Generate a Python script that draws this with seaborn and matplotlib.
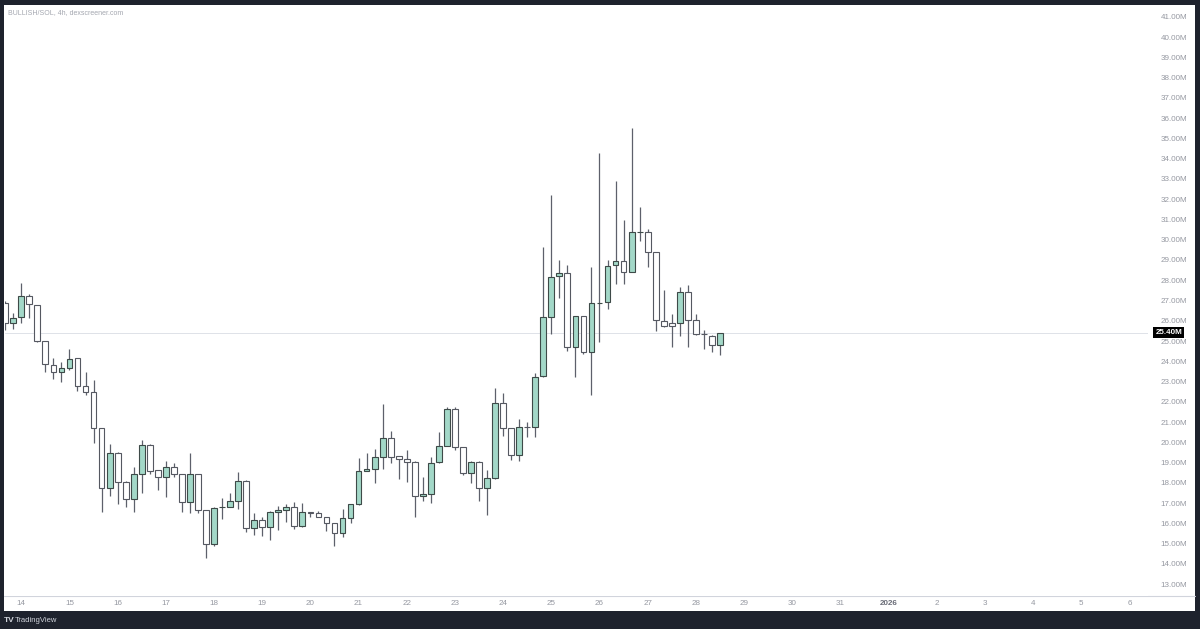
import numpy as np
import pandas as pd
import seaborn as sns
import matplotlib.pyplot as plt
from matplotlib.patches import Rectangle
from matplotlib.lines import Line2D

# 4h candles, index 0 = Dec 14 00:00, values in millions
bar_idx = list(range(-2, 88))
opens = [26.86, 25.90, 26.17, 27.24, 26.78, 25.00, 23.81, 23.45, 23.68, 24.14,
         22.78, 22.48, 20.69, 17.73, 19.48, 18.06, 17.18, 18.43, 19.86, 18.63,
         18.27, 18.76, 18.42, 17.03, 18.42, 16.65, 14.96, 16.78, 16.82, 17.12,
         18.09, 15.75, 16.16, 15.80, 16.54, 16.67, 16.80, 15.86, 16.54, 16.53,
         16.29, 16.00, 15.54, 16.28, 16.94, 18.60, 18.66, 19.29, 20.19, 19.31,
         19.16, 19.04, 17.35, 17.44, 19.02, 19.84, 21.62, 19.75, 18.47, 19.04,
         17.73, 18.22, 21.95, 20.70, 19.35, 20.77, 20.74, 23.27, 26.20, 28.21,
         28.34, 24.69, 26.23, 24.46, 26.86, 26.94, 28.74, 28.93, 28.41, 30.37,
         30.40, 29.38, 25.97, 25.90, 25.90, 27.42, 26.04, 25.35, 25.26, 24.80]
highs = [27.00, 26.37, 27.88, 27.30, 26.80, 25.02, 24.14, 23.98, 24.59, 24.16,
         23.48, 23.07, 20.71, 19.91, 19.50, 18.10, 18.79, 20.11, 19.90, 18.65,
         19.09, 19.00, 18.44, 19.45, 18.45, 16.67, 16.80, 17.27, 17.48, 18.55,
         18.12, 16.49, 16.33, 16.60, 16.83, 16.95, 17.07, 16.99, 16.58, 16.62,
         16.31, 16.02, 16.69, 16.95, 19.21, 19.48, 19.69, 21.87, 20.57, 19.33,
         19.64, 19.06, 18.30, 19.26, 20.52, 21.76, 21.76, 19.76, 19.10, 19.10,
         18.63, 22.66, 22.45, 20.72, 21.13, 21.02, 23.40, 29.66, 32.21, 29.00,
         28.75, 26.25, 26.25, 28.67, 34.28, 29.00, 32.92, 30.98, 35.50, 31.64,
         30.53, 29.40, 27.52, 26.33, 27.65, 27.77, 26.33, 25.54, 25.30, 25.40]
lows = [25.54, 25.58, 25.90, 26.12, 24.95, 23.48, 23.11, 22.99, 23.57, 22.55,
        22.33, 19.98, 16.57, 17.35, 16.95, 16.79, 16.54, 17.51, 18.43, 17.64,
        17.28, 18.27, 16.57, 16.49, 16.49, 14.27, 14.90, 16.20, 16.79, 16.69,
        15.58, 15.42, 15.37, 15.17, 15.67, 16.08, 15.72, 15.83, 16.33, 16.29,
        15.64, 14.89, 15.34, 16.03, 16.92, 18.58, 18.00, 18.66, 18.96, 18.17,
        18.02, 16.33, 17.12, 17.02, 19.00, 19.82, 19.62, 18.40, 18.00, 17.12,
        16.41, 18.20, 20.31, 19.12, 19.09, 20.27, 20.24, 23.20, 25.35, 27.11,
        24.52, 23.24, 24.36, 22.33, 24.97, 26.56, 27.81, 27.81, 28.39, 29.94,
        28.67, 25.51, 25.68, 24.72, 25.25, 24.69, 25.30, 24.59, 24.47, 24.31]
closes = [25.87, 26.15, 27.22, 26.81, 25.00, 23.85, 23.48, 23.68, 24.11, 22.78,
          22.48, 20.69, 17.73, 19.48, 18.06, 17.18, 18.42, 19.86, 18.60, 18.27,
          18.76, 18.42, 17.03, 18.42, 16.65, 14.96, 16.74, 16.80, 17.10, 18.09,
          15.77, 16.16, 15.80, 16.54, 16.65, 16.80, 15.86, 16.54, 16.53, 16.29,
          16.00, 15.54, 16.28, 16.94, 18.60, 18.66, 19.26, 20.19, 19.29, 19.16,
          19.04, 17.35, 17.44, 18.99, 19.84, 21.62, 19.75, 18.47, 19.04, 17.73,
          18.22, 21.95, 20.70, 19.35, 20.73, 20.74, 23.24, 26.20, 28.18, 28.34,
          24.69, 26.23, 24.46, 26.86, 26.89, 28.72, 28.93, 28.41, 30.37, 30.40,
          29.38, 26.04, 25.74, 25.74, 27.42, 26.04, 25.35, 25.33, 24.80, 25.40]

day_labels = ["14", "15", "16", "17", "18", "19", "20", "21", "22", "23", "24", "25",
              "26", "27", "28", "29", "30", "31", "2026", "2", "3", "4", "5", "6"]
price_ticks = list(range(13, 42))
last_price = 25.40

df = pd.DataFrame({"i": bar_idx, "open": opens, "high": highs, "low": lows, "close": closes})
df["up"] = df["close"] >= df["open"]

sns.set_style("white")
plt.rcParams['font.family'] = ['Liberation Sans', 'DejaVu Sans']

W, H = 1200, 629
dark = "#1e222d"
grey_txt = "#9598a1"
fig = plt.figure(figsize=(12, 6.29), dpi=100, facecolor=dark)

# white chart panel
fig.patches.append(Rectangle((4 / W, 1 - 611 / H), 1191 / W, 606 / H, transform=fig.transFigure,
                             facecolor="white", edgecolor="none", zorder=-5))
# time scale separator
fig.lines.append(Line2D([4 / W, 1195 / W], [1 - 596 / H, 1 - 596 / H], transform=fig.transFigure,
                        color="#d1d4dc", lw=0.8, zorder=-4))

ax = fig.add_axes([4.5 / W, 1 - 596 / H, (1148 - 4.5) / W, (596 - 5) / H])
ax.set_zorder(3)
ax.set_facecolor("white")
for s in ax.spines.values():
    s.set_visible(False)

# wicks
ax.vlines(df["i"], df["low"], df["high"], color="#5d606b", lw=0.9, zorder=2)
# bodies
body_h = (df["close"] - df["open"]).abs().clip(lower=0.03)
body_b = df[["open", "close"]].min(axis=1)
fills = np.where(df["up"], "#a3d8c8", "#ffffff")
edges = np.where(df["up"], "#3e4a48", "#555861")
ax.bar(df["i"], body_h, bottom=body_b, width=0.72, color=fills, edgecolor=edges,
       linewidth=0.8, zorder=3)

# last price line
ax.axhline(last_price, color="#dfe2e8", lw=0.7, zorder=1)

ax.set_xlim(-2.09, 140.3)
ax.set_ylim(12.41, 41.59)

ax.set_xticks([k * 6 for k in range(len(day_labels))])
ax.set_xticklabels(day_labels)
ax.tick_params(axis="x", length=0, pad=3, labelsize=5.8, colors=grey_txt)
for lab in ax.get_xticklabels():
    if lab.get_text() == "2026":
        lab.set_color("#6a6d78")
        lab.set_fontweight("bold")

ax.yaxis.tick_right()
ax.set_yticks(price_ticks)
ax.set_yticklabels([f"{p:.2f}M" for p in price_ticks])
ax.tick_params(axis="y", length=0, pad=9, labelsize=5.8, colors=grey_txt)
ax.grid(False)

# price label box
ax.text(1.0065, last_price, f"{last_price:.2f}M", transform=ax.get_yaxis_transform(),
        ha="left", va="center", fontsize=5.8, color="white", fontweight="bold",
        bbox=dict(boxstyle="square,pad=0.25", facecolor="#000000", edgecolor="none"), zorder=5)

fig.text(8 / W, 1 - 13 / H, "BULLISH/SOL, 4h, dexscreener.com", fontsize=5, color="#a3a6af",
         ha="left", va="center")
fig.text(4 / W, 1 - 620 / H, "TV", fontsize=6, color="#d1d4dc", fontweight="bold",
         ha="left", va="center")
fig.text(15 / W, 1 - 620 / H, "TradingView", fontsize=5.5, color="#d1d4dc",
         ha="left", va="center")

fig.savefig("out.png", dpi=100, facecolor=dark)
